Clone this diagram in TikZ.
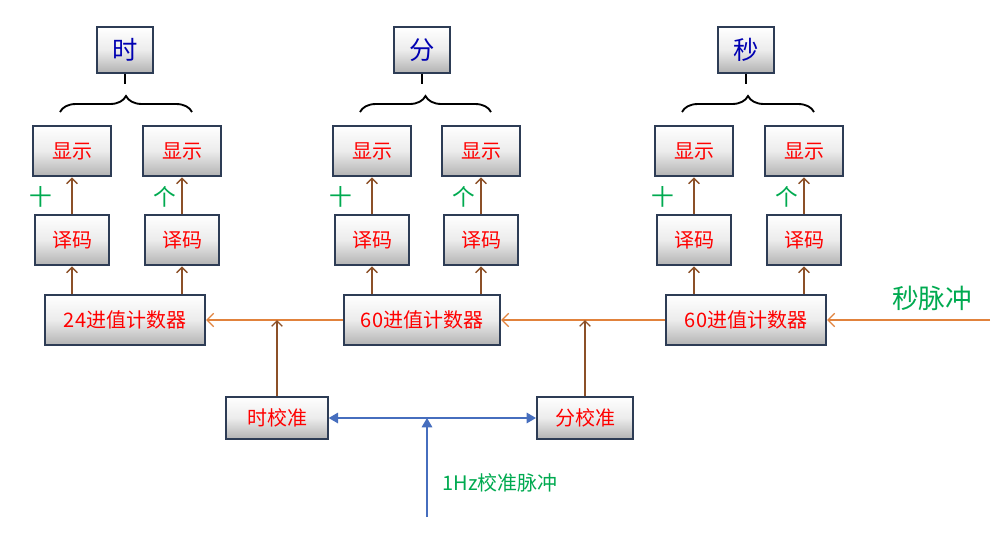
\documentclass[tikz,border=0pt]{standalone}
\usepackage{fontspec}
\setmainfont{Noto Sans CJK SC}
\usetikzlibrary{arrows.meta, decorations.pathreplacing}

\begin{document}
\begin{tikzpicture}[x=0.75pt, y=-0.75pt,
                    box/.style={draw={rgb,255:red,45;green,60;blue,85}, line width=1.6pt,
                                top color=white, bottom color=gray!60, middle color=gray!15,
                                minimum height=#1, inner sep=0pt, font=\color{red}\fontsize{15}{15}\selectfont},
                    box/.default=38pt,
                    unit/.style={box=34pt, minimum width=42pt, font=\color{blue!70!black}\fontsize{19}{19}\selectfont},
                    wire/.style={draw={rgb,255:red,140;green,80;blue,40}, line width=1pt, -{Straight Barb[length=4pt]}},
                    bus/.style={draw={rgb,255:red,225;green,130;blue,60}, line width=1pt, -{Straight Barb[length=5pt]}},
                    blue/.style={draw={rgb,255:red,70;green,110;blue,190}, line width=0.9pt, -{Triangle[length=7pt,width=8pt]}},
                    tag/.style={text={rgb,255:red,0;green,170;blue,80}, font=\fontsize{17}{17}\selectfont}
                    ]
    \useasboundingbox (0,0) rectangle (1004,536);

    % hour / minute / second columns
    \foreach \name/\u/\xl/\xr/\xc/\cw/\clab in {h/时/72/182/125/120pt/24进值计数器,
                                               m/分/372/481/422/117pt/60进值计数器,
                                               s/秒/694/804/746/120pt/60进值计数器} {
        \node[unit] (\name top) at (\xc,50) {\u};
        \draw[line width=1.4pt, decorate, decoration={brace, amplitude=12pt}]
            (\xl-12,112) -- (\xr+10,112);
        \draw[line width=1.2pt] (\name top.south) -- (\xc,84);
        \node[box, minimum width=58pt] (\name ds1) at (\xl,151) {显示};
        \node[box, minimum width=58pt] (\name ds2) at (\xr,151) {显示};
        \node[box, minimum width=56pt] (\name dc1) at (\xl,240) {译码};
        \node[box, minimum width=56pt] (\name dc2) at (\xr,240) {译码};
        \node[box, minimum width=\cw] (\name cnt) at (\xc,320) {\clab};
        \draw[wire] (\name dc1) -- (\name ds1);
        \draw[wire] (\name dc2) -- (\name ds2);
        \draw[wire] (\name cnt.north -| \name dc1) -- (\name dc1);
        \draw[wire] (\name cnt.north -| \name dc2) -- (\name dc2);
        \node[tag] at (\xl-31,197) {十};
        \node[tag] at (\xr-17,197) {个};
    }

    % counter chain
    \coordinate (in) at (990,320);
    \draw[bus] (in) -- (scnt);
    \draw[bus] (scnt) -- (mcnt);
    \draw[bus] (mcnt) -- (hcnt);
    \node[tag, font=\fontsize{20}{20}\selectfont] (spulse) at (932,298) {秒脉冲};

    % calibration
    \node[box=32pt, minimum width=76pt] (hcal) at (277,418) {时校准};
    \node[box=32pt, minimum width=72pt] (mcal) at (585,418) {分校准};
    \draw[wire] (hcal) -- (hcal.north |- hcnt);
    \draw[wire] (mcal) -- (mcal.north |- hcnt);
    \coordinate (j) at (427,418);
    \coordinate (src) at (427,517);
    \draw[blue] (j) -- (hcal);
    \draw[blue] (j) -- (mcal);
    \draw[blue] (src) -- (j);
    \node[tag, font=\fontsize{15}{15}\selectfont, anchor=west] (cal) at (438,483) {1Hz校准脉冲};
\end{tikzpicture}
\end{document}
